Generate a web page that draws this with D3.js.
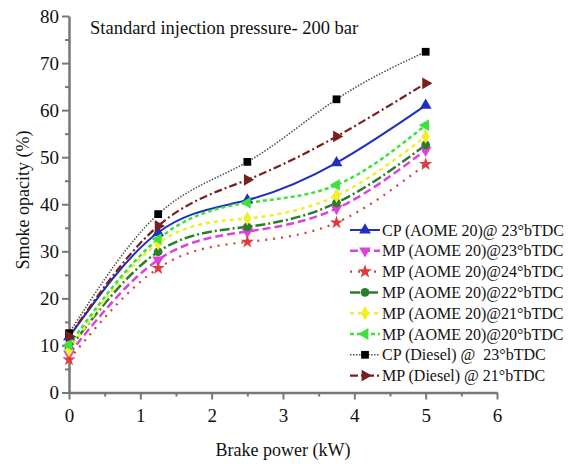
<!DOCTYPE html>
<html><head><meta charset="utf-8">
<script src="https://cdn.jsdelivr.net/npm/d3@7"></script>
<style>body{margin:0;background:#fff}svg{display:block}</style>
</head><body><svg id="c" width="570" height="464"></svg>
<script>
const brakePower = [0, 1.25, 2.5, 3.75, 5];
const seriesNames = [
  "CP (AOME 20)@ 23°bTDC",
  "MP (AOME 20)@23°bTDC",
  "MP (AOME 20)@24°bTDC",
  "MP (AOME 20)@22°bTDC",
  "MP (AOME 20)@21°bTDC",
  "MP (AOME 20)@20°bTDC",
  "CP (Diesel) @  23°bTDC",
  "MP (Diesel) @ 21°bTDC"
];
const cpAome23 = [11.8, 34.0, 40.9, 48.8, 61.0];
const mpAome23 = [8.2, 28.2, 34.2, 39.1, 51.5];
const mpAome24 = [7.0, 26.4, 32.0, 36.1, 48.5];
const mpAome22 = [9.3, 29.9, 35.2, 40.3, 52.6];
const mpAome21 = [9.0, 31.7, 37.0, 41.8, 54.4];
const mpAome20 = [10.1, 32.6, 40.3, 44.1, 56.8];
const cpDiesel23 = [12.6, 37.9, 49.0, 62.3, 72.4];
const mpDiesel21 = [11.9, 35.4, 45.2, 54.4, 65.7];
const xTicks = [0, 1, 2, 3, 4, 5, 6];
const yTicks = [0, 10, 20, 30, 40, 50, 60, 70, 80];
const titleText = "Standard injection pressure- 200 bar";
const xLabel = "Brake power (kW)";
const yLabel = "Smoke opacity (%)";

const FONT = "'Liberation Serif', 'DejaVu Serif', serif";
const values = [cpAome23, mpAome23, mpAome24, mpAome22, mpAome21, mpAome20, cpDiesel23, mpDiesel21];
const styles = [
  {color:"#1f2fbf", dash:null, w:2, sym:d3.symbolTriangle, rot:0},
  {color:"#e040e0", dash:"8,4", w:2.5, sym:d3.symbolTriangle, rot:180},
  {color:"#e03a3a", dash:"2,6", w:2.2, sym:d3.symbolStar, rot:0},
  {color:"#2a7d2a", dash:"10,3,2,3", w:2.5, sym:d3.symbolCircle, rot:0},
  {color:"#f2ee2a", dash:"4,4", w:2.5, sym:d3.symbolDiamond, rot:0},
  {color:"#3fe03f", dash:"4,3", w:2.5, sym:d3.symbolTriangle, rot:-90},
  {color:"#555", dash:"1.5,1.5", w:1.6, sym:d3.symbolSquare, rot:0, mcolor:"#000"},
  {color:"#7a1f1f", dash:"8,3,2,3", w:2.2, sym:d3.symbolTriangle, rot:90}
];

const svg = d3.select("#c");
const x = d3.scaleLinear().domain([0, 6]).range([69, 497]);
const y = d3.scaleLinear().domain([0, 80]).range([392.5, 16]);
const axisColor = "#777";

const xAxis = svg.append("g").attr("transform", "translate(0,392.5)")
  .call(d3.axisBottom(x).tickValues(xTicks).tickSize(7).tickSizeOuter(0).tickPadding(9).tickFormat(d3.format("d")));
const xMinor = svg.append("g").attr("transform", "translate(0,392.5)")
  .call(d3.axisBottom(x).tickValues(xTicks.slice(0,-1).map(d => d + 0.5)).tickSize(4).tickFormat(""));
const yAxis = svg.append("g").attr("transform", "translate(69,0)")
  .call(d3.axisLeft(y).tickValues(yTicks).tickSize(7).tickSizeOuter(0).tickPadding(3).tickFormat(d3.format("d")));
const yMinor = svg.append("g").attr("transform", "translate(69,0)")
  .call(d3.axisLeft(y).tickValues(yTicks.slice(0,-1).map(d => d + 5)).tickSize(4).tickFormat(""));
[xAxis, xMinor, yAxis, yMinor].forEach(g => {
  g.attr("font-family", null);
  g.selectAll("path").attr("stroke", axisColor).attr("stroke-width", 2.5);
  g.selectAll("line").attr("stroke", axisColor).attr("stroke-width", 2);
  g.selectAll("text").style("font-family", FONT).style("font-size", "19px").attr("fill", "#111");
});
xMinor.select("path").remove(); yMinor.select("path").remove();

const txt = (sel) => sel.style("font-family", FONT).attr("fill", "#111");
txt(svg.append("text").attr("x", 90).attr("y", 34).style("font-size", "18.5px").text(titleText));
txt(svg.append("text").attr("x", 283).attr("y", 456).attr("text-anchor", "middle").style("font-size", "18px").text(xLabel));
txt(svg.append("text").attr("transform", "translate(29,200) rotate(-90)").attr("text-anchor", "middle").style("font-size", "18px").text(yLabel));

const line = d3.line().x(d => x(d[0])).y(d => y(d[1])).curve(d3.curveNatural);
values.forEach((vals, i) => {
  const s = styles[i];
  const pts = brakePower.map((b, j) => [b, vals[j]]);
  svg.append("path").datum(pts).attr("d", line).attr("fill", "none")
    .attr("stroke", s.color).attr("stroke-width", s.w).attr("stroke-dasharray", s.dash);
});
values.forEach((vals, i) => {
  const s = styles[i];
  const pts = brakePower.map((b, j) => [b, vals[j]]);
  svg.append("g").selectAll("path").data(pts).join("path")
    .attr("d", d3.symbol().type(s.sym).size(s.sym === d3.symbolStar ? 55 : 60))
    .attr("transform", d => `translate(${x(d[0])},${y(d[1])}) rotate(${s.rot})`)
    .attr("fill", s.mcolor || s.color);
});

const lg = svg.append("g");
seriesNames.forEach((name, i) => {
  const s = styles[i];
  const yy = 230 + i * 20.8;
  lg.append("line").attr("x1", 350).attr("x2", 380).attr("y1", yy).attr("y2", yy)
    .attr("stroke", s.color).attr("stroke-width", s.w).attr("stroke-dasharray", s.dash);
  lg.append("path").attr("d", d3.symbol().type(s.sym).size(60)())
    .attr("transform", `translate(365,${yy}) rotate(${s.rot})`).attr("fill", s.mcolor || s.color);
  txt(lg.append("text").attr("x", 382).attr("y", yy + 5.5).style("font-size", "16px")
    .style("white-space", "pre").text(name));
});
</script></body></html>
